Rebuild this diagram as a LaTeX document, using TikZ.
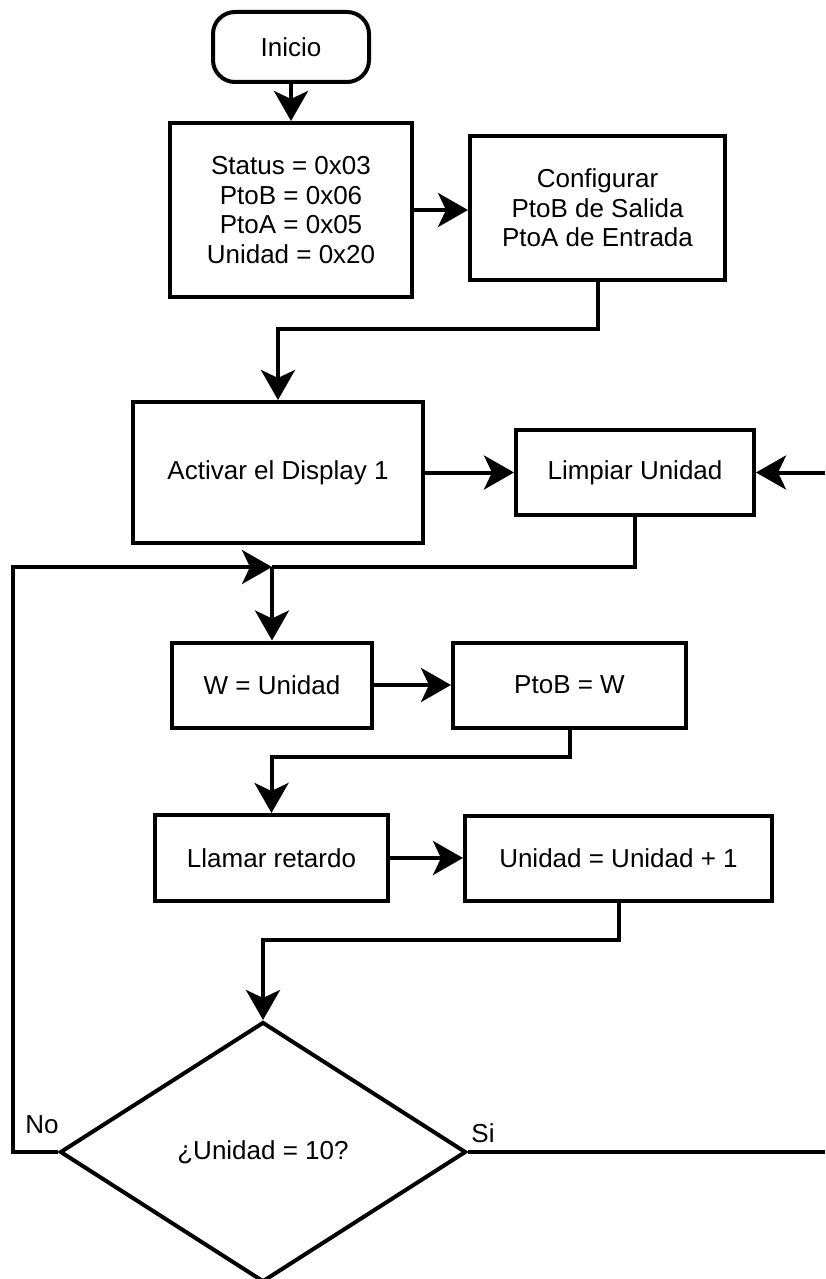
\documentclass[tikz,border=0pt]{standalone}
\usepackage{fontspec}
\setmainfont{Liberation Sans}
\usepackage{tikz}
\usetikzlibrary{arrows.meta,shapes.geometric}

\begin{document}
\begin{tikzpicture}[line width=2pt,>={Stealth[length=15pt,width=17pt,inset=4pt]},
  every node/.style={font=\fontsize{13}{14.75}\selectfont},
  box/.style={draw,rectangle,align=center,inner sep=0pt},
  terminal/.style={box,rounded corners=11pt},
  decision/.style={draw,diamond,aspect=1.56,inner sep=0pt}]
  \useasboundingbox (0pt,0pt) rectangle (412.5pt,-639.5pt);
  \draw (145.5pt, -23.5pt)node[terminal, minimum width=78pt, minimum height=35pt](0){Inicio};
  \draw (145.5pt, -105.0pt)node[box, minimum width=121pt, minimum height=87pt](1){Status = 0x03\\ PtoB = 0x06\\ PtoA = 0x05\\ Unidad = 0x20};
  \draw (298.75pt, -104.0pt)node[box, minimum width=127.5pt, minimum height=71.5pt](2){Configurar\\ PtoB de Salida\\ PtoA de Entrada};
  \draw (139.0pt, -236.25pt)node[box, minimum width=145pt, minimum height=70.5pt](3){Activar el Display 1};
  \draw (317.5pt, -236.25pt)node[box, minimum width=119pt, minimum height=42.5pt](4){Limpiar Unidad};
  \draw (136.0pt, -342.5pt)node[box, minimum width=100pt, minimum height=42.5pt](5){W = Unidad};
  \draw (284.75pt, -342.5pt)node[box, minimum width=116.5pt, minimum height=42.5pt](6){PtoB = W};
  \draw (135.75pt, -429.0pt)node[box, minimum width=116.5pt, minimum height=43pt](7){Llamar retardo};
  \draw (309.25pt, -429.0pt)node[box, minimum width=153.5pt, minimum height=42.5pt](8){Unidad = Unidad + 1};
  \draw (131.5pt, -576.0pt)node[decision, minimum width=203pt, minimum height=130pt](9){¿Unidad = 10?};
  \draw (21.0pt, -562.5pt)node(14){No};
  \draw (241.5pt, -566.5pt)node(15){Si};
  \coordinate (10) at (136.0pt, -283.5pt);
  \coordinate (11) at (6.5pt, -576.0pt);
  \coordinate (12) at (412.5pt, -576.0pt);
  \coordinate (13) at (412.5pt, -236.25pt);
  \path[->] (0) edge (1);
  \path[->] (1.east) edge (1.east -| 2.west);
  \draw[->] (2.south) -- ++(0,-23.5pt) -| (3.north);
  \path[->] (3) edge (4);
  \path[->] (13) edge (4);
  \draw (4.south) |- (10);
  \draw[->] (10) -- (10 |- 5.north);
  \path[->] (5) edge (6);
  \draw[->] (6.south) -- ++(0,-13.75pt) -| (7.north);
  \path[->] (7) edge (8);
  \draw[->] (8.south) -- ++(0,-18.75pt) -| (9.north);
  \draw[->] (9.west) -- (11) |- (10);
  \draw (9.east) -- (12);
\end{tikzpicture}
\end{document}
